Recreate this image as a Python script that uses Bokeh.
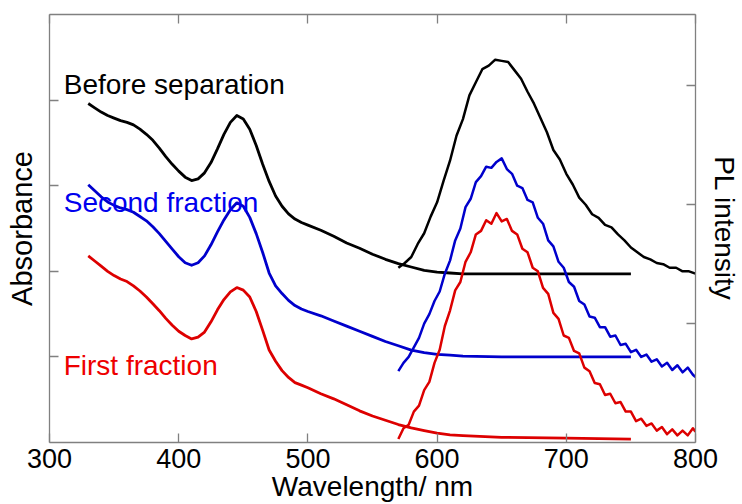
from bokeh.plotting import figure
from bokeh.models import Range1d, LinearAxis, FixedTicker, Label
from bokeh.embed import file_html
from bokeh.resources import INLINE

# Absorption spectra (left axis, stacked with offsets of 2, 1 and 0)
abs_wl = [330, 335, 340, 345, 350, 355, 360, 365, 370, 375, 380, 385, 390, 395,
          400, 405, 410, 415, 420, 425, 430, 435, 440, 445, 450, 455, 460, 465,
          470, 475, 480, 485, 490, 495, 500, 510, 520, 530, 540, 550, 560, 570,
          580, 590, 600, 610, 620, 650, 700, 750]
abs_before = [3.96, 3.91, 3.86, 3.82, 3.79, 3.76, 3.74, 3.71, 3.66, 3.60, 3.53, 3.44,
              3.34, 3.25, 3.17, 3.10, 3.06, 3.08, 3.15, 3.27, 3.43, 3.60, 3.74, 3.82,
              3.78, 3.66, 3.47, 3.25, 3.05, 2.88, 2.76, 2.67, 2.61, 2.57, 2.54, 2.48,
              2.41, 2.33, 2.27, 2.20, 2.14, 2.09, 2.05, 2.01, 1.99, 1.98, 1.97, 1.97,
              1.97, 1.97]
abs_second = [3.01, 2.94, 2.87, 2.81, 2.77, 2.74, 2.72, 2.69, 2.64, 2.59, 2.52, 2.44,
              2.35, 2.26, 2.17, 2.10, 2.07, 2.10, 2.18, 2.31, 2.46, 2.60, 2.72, 2.80,
              2.76, 2.63, 2.44, 2.22, 1.98, 1.83, 1.74, 1.66, 1.60, 1.56, 1.53, 1.48,
              1.42, 1.36, 1.30, 1.24, 1.18, 1.13, 1.08, 1.05, 1.03, 1.02, 1.01, 1.00,
              1.00, 1.00]
abs_first = [2.18, 2.12, 2.06, 2.00, 1.95, 1.91, 1.88, 1.83, 1.77, 1.70, 1.62, 1.54,
             1.45, 1.37, 1.30, 1.25, 1.21, 1.23, 1.29, 1.41, 1.55, 1.67, 1.76, 1.81,
             1.78, 1.70, 1.53, 1.31, 1.08, 0.95, 0.84, 0.76, 0.70, 0.67, 0.64, 0.57,
             0.51, 0.44, 0.37, 0.31, 0.26, 0.21, 0.17, 0.14, 0.11, 0.09, 0.08, 0.06,
             0.05, 0.04]

# Photoluminescence spectra (right axis)
pl_wl_before = [570, 575, 580, 585, 590, 595, 600, 605, 610, 615, 620, 625, 630, 635,
                640, 645, 650, 655, 660, 665, 670, 675, 680, 685, 690, 695, 700, 705,
                710, 715, 720, 725, 730, 735, 740, 745, 750, 755, 760, 765, 770, 775,
                780, 785, 790, 795, 800]
pl_before = [1.47, 1.51, 1.56, 1.67, 1.76, 1.90, 2.02, 2.20, 2.37, 2.58, 2.72, 2.92,
             3.03, 3.14, 3.17, 3.22, 3.21, 3.20, 3.13, 3.06, 2.95, 2.85, 2.73, 2.61,
             2.46, 2.38, 2.26, 2.17, 2.06, 2.00, 1.92, 1.89, 1.83, 1.81, 1.75, 1.70,
             1.64, 1.60, 1.56, 1.54, 1.51, 1.50, 1.47, 1.47, 1.44, 1.44, 1.42]

pl_wl = [570, 574, 578, 582, 586, 590, 594, 598, 602, 606, 610, 614, 618, 622, 626,
         630, 634, 638, 642, 646, 650, 654, 658, 662, 666, 670, 674, 678, 682, 686,
         690, 694, 698, 702, 706, 710, 714, 718, 722, 726, 730, 734, 738, 742, 746,
         750, 754, 758, 762, 766, 770, 774, 778, 782, 786, 790, 794, 798, 800]
pl_second = [0.60, 0.67, 0.72, 0.80, 0.88, 1.00, 1.08, 1.19, 1.27, 1.42, 1.53, 1.70,
             1.80, 1.98, 2.05, 2.19, 2.24, 2.32, 2.31, 2.36, 2.39, 2.30, 2.26, 2.16,
             2.14, 2.04, 2.02, 1.89, 1.84, 1.70, 1.65, 1.52, 1.47, 1.35, 1.31, 1.19,
             1.16, 1.06, 1.05, 0.97, 0.97, 0.89, 0.90, 0.82, 0.83, 0.76, 0.78, 0.72,
             0.74, 0.68, 0.70, 0.64, 0.67, 0.61, 0.65, 0.59, 0.63, 0.57, 0.55]
pl_first = [0.03, 0.12, 0.15, 0.26, 0.31, 0.44, 0.51, 0.67, 0.78, 0.98, 1.11, 1.28,
            1.35, 1.52, 1.60, 1.75, 1.78, 1.87, 1.84, 1.93, 1.86, 1.88, 1.78, 1.75,
            1.63, 1.60, 1.47, 1.44, 1.30, 1.25, 1.09, 1.04, 0.90, 0.88, 0.77, 0.75,
            0.63, 0.60, 0.50, 0.49, 0.40, 0.41, 0.33, 0.34, 0.26, 0.26, 0.18, 0.20,
            0.14, 0.16, 0.10, 0.13, 0.07, 0.11, 0.06, 0.10, 0.06, 0.12, 0.09]

x_ticks = [300, 400, 500, 600, 700, 800]
left_ticks = [1, 2, 3, 4]
right_ticks = [1, 2, 3]

FONT = "Liberation Sans"
FRAME = "#808080"
BLACK = "#000000"
BLUE = "#0000CC"
RED = "#DD0000"

p = figure(width=742, height=504, output_backend="svg", toolbar_location=None,
           x_range=Range1d(300, 800), y_range=Range1d(0, 5),
           min_border_left=49, min_border_right=42, min_border_top=14,
           min_border_bottom=62, x_axis_location="below", y_axis_location="left")
p.extra_y_ranges = {"pl": Range1d(0, 3.6)}
p.xgrid.visible = False
p.ygrid.visible = False
p.outline_line_color = None
p.background_fill_color = "white"
p.border_fill_color = "white"


def style_axis(ax, show_labels):
    ax.axis_line_color = FRAME
    ax.axis_line_width = 1.3
    ax.major_tick_line_color = FRAME
    ax.major_tick_line_width = 1.3
    ax.major_tick_in = 9
    ax.major_tick_out = 0
    ax.minor_tick_line_color = None
    ax.axis_label_text_font = FONT
    ax.axis_label_text_font_style = "normal"
    ax.axis_label_text_color = "black"
    ax.major_label_text_font = FONT
    ax.major_label_text_color = "black"
    if not show_labels:
        # ticks only: the tick values are not printed on this side
        ax.major_label_text_color = None
        ax.major_label_text_font_size = "0px"
        ax.major_label_standoff = 0


xax = p.xaxis[0]
xax.ticker = FixedTicker(ticks=x_ticks)
style_axis(xax, True)
xax.major_label_text_font_size = "27px"
xax.major_label_standoff = 6
xax.axis_label = "Wavelength/ nm"
xax.axis_label_text_font_size = "28px"
xax.axis_label_standoff = 0

yax = p.yaxis[0]
yax.ticker = FixedTicker(ticks=left_ticks)
style_axis(yax, False)
yax.axis_label = "Absorbance"
yax.axis_label_text_font_size = "29px"
yax.axis_label_standoff = 12

top_ax = LinearAxis(ticker=FixedTicker(ticks=x_ticks))
style_axis(top_ax, False)
p.add_layout(top_ax, "above")

right_ax = LinearAxis(y_range_name="pl", ticker=FixedTicker(ticks=right_ticks),
                      axis_label="PL intensity")
style_axis(right_ax, False)
right_ax.axis_label_text_font_size = "28px"
right_ax.axis_label_standoff = 13
p.add_layout(right_ax, "right")

# Absorption curves
for ys, col in [(abs_before, BLACK), (abs_second, BLUE), (abs_first, RED)]:
    p.line(abs_wl, ys, line_color=col, line_width=2.8, line_join="round")

# Emission curves
p.line(pl_wl_before, pl_before, line_color=BLACK, line_width=2.5,
       line_join="round", y_range_name="pl")
p.line(pl_wl, pl_second, line_color=BLUE, line_width=2.5,
       line_join="round", y_range_name="pl")
p.line(pl_wl, pl_first, line_color=RED, line_width=2.5,
       line_join="round", y_range_name="pl")

labels = [("Before separation", 4.18, "black"),
          ("Second fraction", 2.80, "#0000EE"),
          ("First fraction", 0.90, "#EE0000")]
for txt, yv, col in labels:
    p.add_layout(Label(x=311.0, y=yv, text=txt, text_font=FONT,
                       text_font_size="28px", text_color=col,
                       text_baseline="alphabetic", text_align="left"))

open("out.html", "w").write(file_html(p, INLINE))
